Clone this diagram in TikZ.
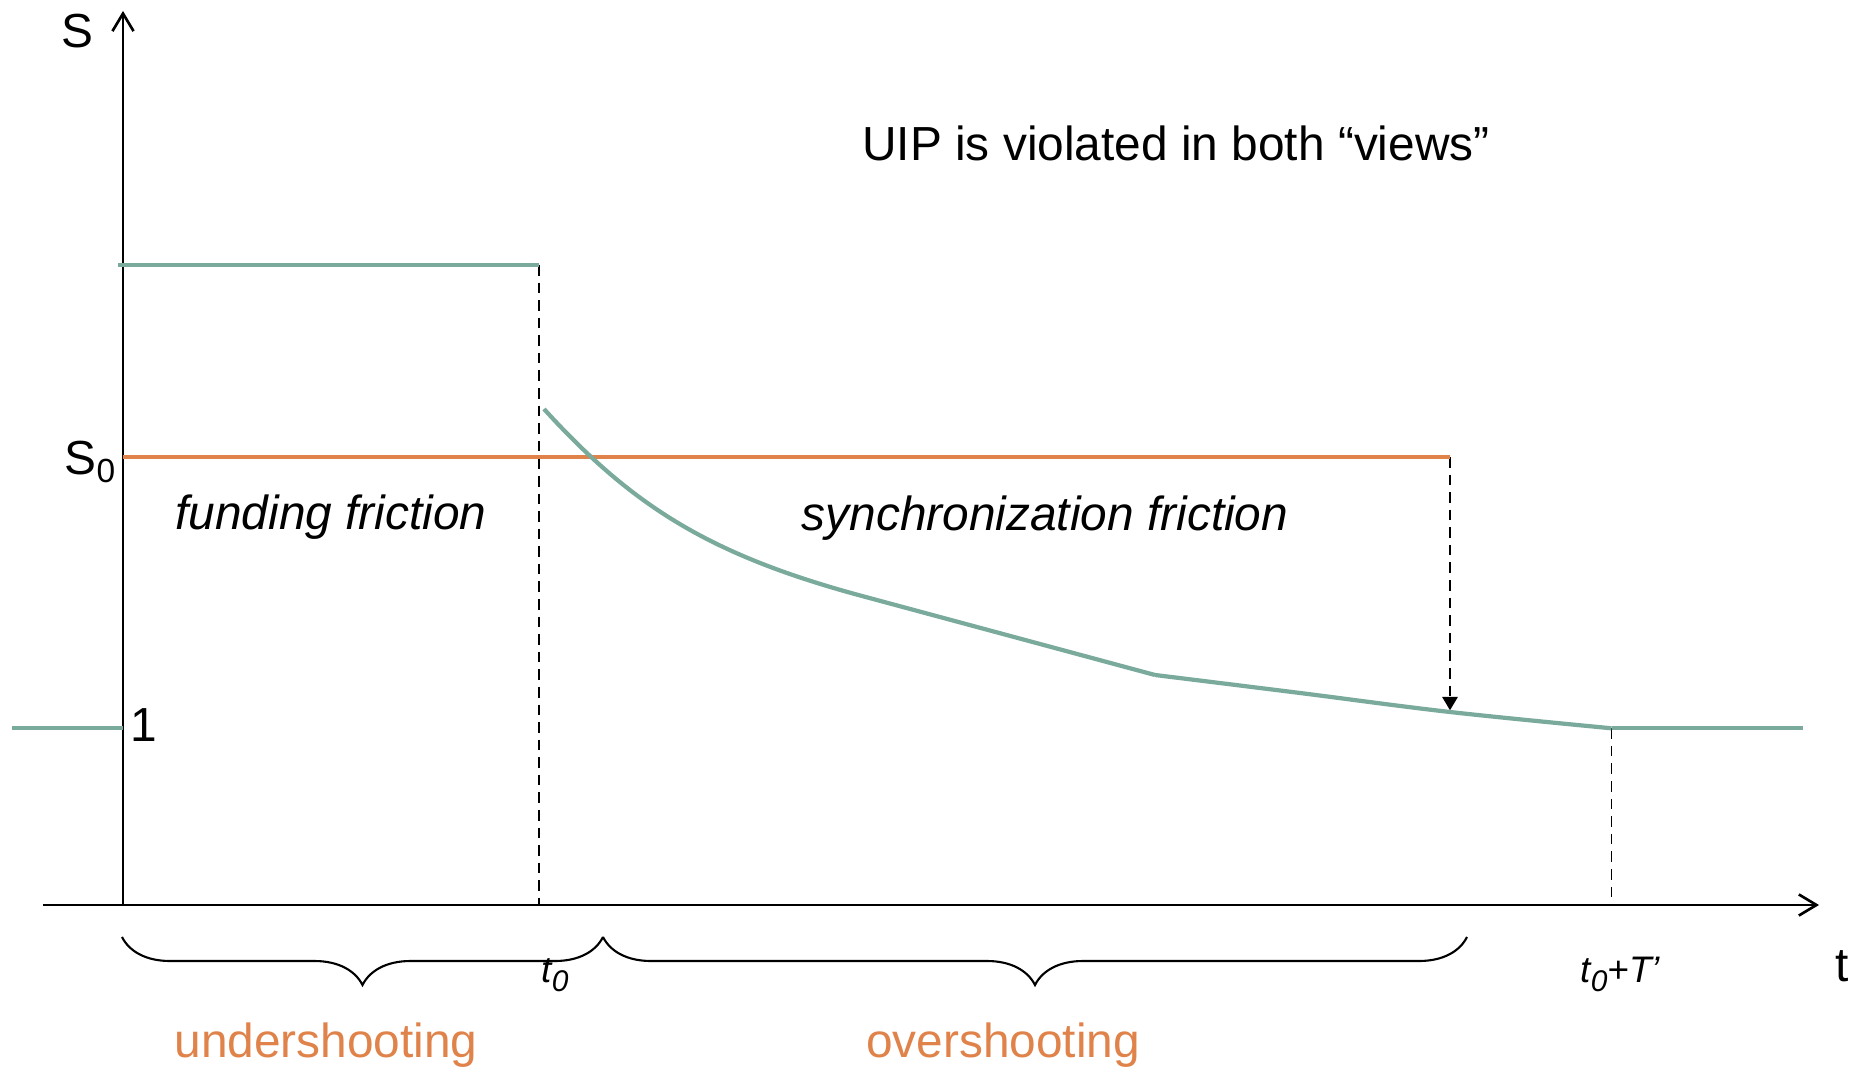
\documentclass[tikz,border=0pt]{standalone}
\usepackage{fontspec}
\setmainfont{Liberation Sans}
\usepackage{tikz}
\usetikzlibrary{positioning,arrows,arrows.meta,calc,decorations.pathreplacing}
\definecolor{pathteal}{RGB}{122,170,156}
\definecolor{levelorange}{RGB}{224,131,74}
\newcommand{\lowsub}[1]{\raisebox{-0.45ex}{\fontsize{8.5}{9}\selectfont #1}}
\tikzset{
    axis/.style = {
        draw,
        line width=0.75pt,
        -{Straight Barb[length=5pt,width=6pt]}
    },
    rate/.style = {
        draw,
        pathteal,
        line width=1.2pt
    },
    level/.style = {
        draw,
        levelorange,
        line width=1.2pt
    },
    marker/.style = {
        draw,
        line width=0.5pt,
        dash pattern=on 3pt off 2pt
    },
    phase/.style = {
        draw,
        line width=0.6pt,
        decorate,
        decoration={brace, mirror, amplitude=0.48cm}
    },
    txt/.style = {
        font=\fontsize{13.6}{16}\selectfont,
        inner sep=0pt
    },
    ticktxt/.style = {
        font=\fontsize{10.5}{12}\selectfont\itshape,
        inner sep=0pt
    },
    phasetxt/.style = {
        txt,
        levelorange
    },
    >=latex',
}

\begin{document}
\begin{tikzpicture}[x=0.01cm, y=-0.01cm]

            \useasboundingbox (0,0) rectangle (1853,1067);

            \coordinate (origin) at (123,905);
            \coordinate (ytop) at (123,11);
            \coordinate (xleft) at (43,905);
            \coordinate (xright) at (1819,905);

            \coordinate (pre_start) at (12,728);
            \coordinate (pre_end) at (123,728);
            \coordinate (high_start) at (118,265);
            \coordinate (high_end) at (539,265);
            \coordinate (jump) at (544,409);
            \coordinate (bend) at (862,596);
            \coordinate (kink) at (1155,675);
            \coordinate (hit) at (1450,712);
            \coordinate (settle) at (1611.5,728.3);
            \coordinate (post_end) at (1803,728.3);

            \coordinate (s0_start) at (123,457);
            \coordinate (s0_end) at (1450,457);

            \coordinate (t0) at (539,905);
            \coordinate (tT) at (1611.5,905);

            \coordinate (under_start) at (122,937);
            \coordinate (split) at (603,937);
            \coordinate (over_end) at (1467,937);

            \node[txt, anchor=base] (s_lbl) at (77.5,48) {S};
            \node[txt, anchor=base west] (s0_lbl) at (64,475) {S\textsubscript{0}};
            \node[txt, anchor=base west] (one_lbl) at (130,742) {1};
            \node[txt, anchor=base west] (t_lbl) at (1835,982) {t};

            \node[txt, anchor=base] (uip) at (1176,161) {UIP is violated in both “views”};
            \node[txt, anchor=base, font=\fontsize{13.6}{16}\selectfont\itshape] (funding) at (331,530) {funding friction};
            \node[txt, anchor=base, font=\fontsize{13.6}{16}\selectfont\itshape] (sync) at (1045,531) {synchronization friction};

            \node[ticktxt, anchor=base west] (t0_lbl) at (541,983) {t\lowsub{0}};
            \node[ticktxt, anchor=base west] (tT_lbl) at (1580,983) {t\lowsub{0}+T’};

            \node[phasetxt, anchor=base] (under_lbl) at (326,1058) {undershooting};
            \node[phasetxt, anchor=base] (over_lbl) at (1003,1058) {overshooting};

            \path[axis] (origin) -- (ytop);
            \path[axis] (xleft) -- (xright);

            \path[marker] (high_end) -- (t0);
            \path[marker] (settle) -- (tT);
            \path[marker, -{Triangle[length=3.8pt,width=4.4pt]}, shorten >=0.5pt] (s0_end) -- (hit);

            \path[level] (s0_start) -- (s0_end);

            \path[rate] (pre_start) -- (pre_end);
            \path[rate] (high_start) -- (high_end);
            \path[rate] (jump) .. controls (634,508) and (712,555.5) .. (bend) -- (kink);
            \path[rate] plot[smooth, tension=0.6] coordinates {(kink) (1300,693) (hit) (settle)};
            \path[rate] (settle) -- (post_end);

            \path[phase] (under_start) -- (split);
            \path[phase] (split) -- (over_end);

        \end{tikzpicture}
\end{document}
